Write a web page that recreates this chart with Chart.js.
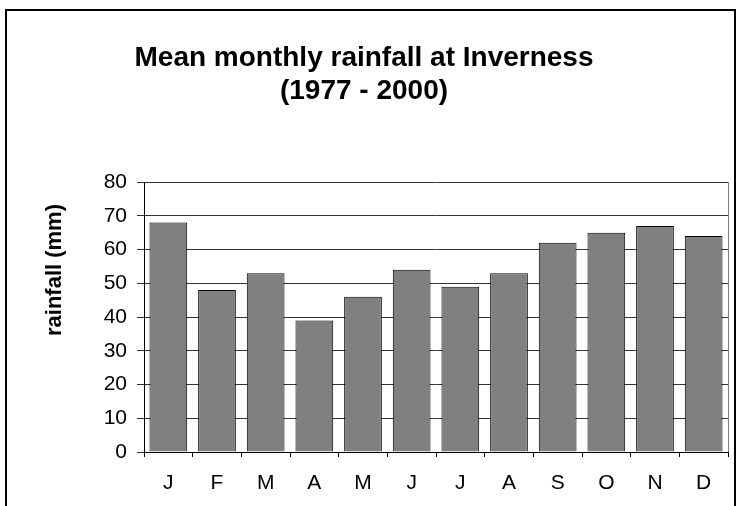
<!DOCTYPE html>
<html lang="en">
<head>
  <meta charset="UTF-8" />
  <title>Mean monthly rainfall at Inverness</title>
  <script src="https://cdn.jsdelivr.net/npm/chart.js"></script>
  <style>
    body { margin: 0; background: #fff; overflow: hidden; }
    #frame { position: absolute; left: 5px; top: 9px; width: 727px; height: 520px; border: 2px solid #000; }
    #chart { position: absolute; left: 0; top: 0; }
  </style>
</head>
<body>
  <div id="frame"></div>
  <canvas id="chart" width="737" height="506"></canvas>

  <script>
    const months = ['J', 'F', 'M', 'A', 'M', 'J', 'J', 'A', 'S', 'O', 'N', 'D'];
    const rainfall = [68, 48, 53, 39, 46, 54, 49, 53, 62, 65, 67, 64];
    const titleLines = ['Mean monthly rainfall at Inverness', '(1977 - 2000)'];
    const yTitle = 'rainfall (mm)';

    const font = 'Liberation Sans, Arial, sans-serif';

    // axis title sits above the plot centre in the original, so draw it by hand
    const yTitlePlugin = {
      id: 'yTitle',
      afterDraw(chart) {
        const ctx = chart.ctx;
        ctx.save();
        ctx.translate(55, 270);
        ctx.rotate(-Math.PI / 2);
        ctx.font = 'bold 22px ' + font;
        ctx.fillStyle = '#000';
        ctx.textAlign = 'center';
        ctx.textBaseline = 'middle';
        ctx.fillText(yTitle, 0, 0);
        ctx.restore();
      }
    };

    // grey frame on the right side of the plot area
    const plotFrame = {
      id: 'plotFrame',
      afterDatasetsDraw(chart) {
        const a = chart.chartArea;
        const ctx = chart.ctx;
        ctx.save();
        ctx.strokeStyle = '#808080';
        ctx.lineWidth = 1;
        ctx.beginPath();
        ctx.moveTo(Math.round(a.right) + 0.5, a.top);
        ctx.lineTo(Math.round(a.right) + 0.5, a.bottom);
        ctx.stroke();
        ctx.restore();
      }
    };

    new Chart(document.getElementById('chart'), {
      type: 'bar',
      data: {
        labels: months,
        datasets: [{
          data: rainfall,
          backgroundColor: '#808080',
          borderColor: '#000',
          borderWidth: 1,
          barPercentage: 0.775,
          categoryPercentage: 1
        }]
      },
      options: {
        responsive: false,
        animation: false,
        layout: { padding: { left: 0, right: 9, top: 0, bottom: 0 } },
        plugins: {
          legend: { display: false },
          tooltip: { enabled: false },
          title: {
            display: true,
            text: titleLines,
            color: '#000',
            font: { family: font, size: 28, weight: 'bold', lineHeight: 1.18 },
            padding: { top: 42, bottom: 74 }
          }
        },
        scales: {
          x: {
            grid: {
              offset: true,
              drawOnChartArea: false,
              tickLength: 5,
              color: '#000'
            },
            border: { color: '#000', width: 1 },
            ticks: {
              color: '#000',
              font: { family: font, size: 21 },
              padding: 14,
              maxRotation: 0
            },
            afterFit(scale) { scale.height = 54; }
          },
          y: {
            min: 0,
            max: 80,
            ticks: {
              stepSize: 10,
              color: '#000',
              font: { family: font, size: 21 },
              padding: 10
            },
            grid: { color: '#333', tickLength: 7 },
            border: { color: '#000', width: 1 },
            afterFit(scale) { scale.width = 144; }
          }
        }
      },
      plugins: [yTitlePlugin, plotFrame]
    });
  </script>
</body>
</html>
